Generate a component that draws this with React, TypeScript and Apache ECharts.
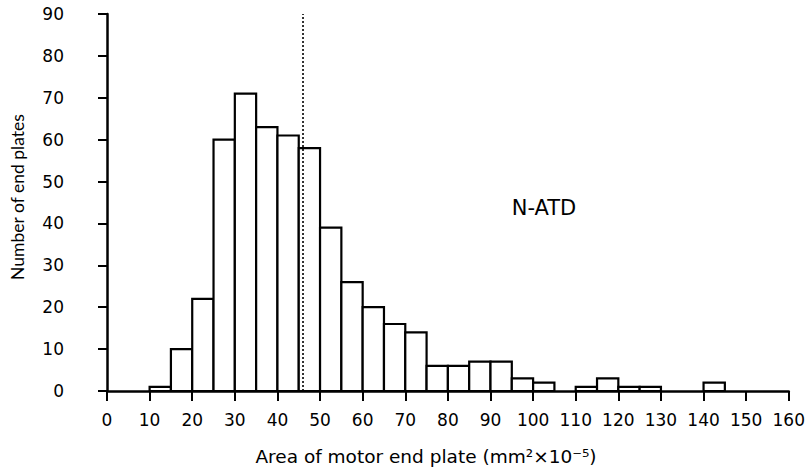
import React, { useEffect, useRef } from "react";
import * as echarts from "echarts";

const binStarts = [10, 15, 20, 25, 30, 35, 40, 45, 50, 55, 60, 65, 70, 75, 80, 85, 90, 95, 100, 110, 115, 120, 125, 140];
const counts = [1, 10, 22, 60, 71, 63, 61, 58, 39, 26, 20, 16, 14, 6, 6, 7, 7, 3, 2, 1, 3, 1, 1, 2];
const binWidth = 5;
const meanValue = 46;
const xTitle = "Area of motor end plate (mm²×10⁻⁵)";
const yTitle = "Number of end plates";
const groupLabel = "N-ATD";

const FONT = "'DejaVu Sans', sans-serif";
const YFONT = "Lato, 'Open Sans', sans-serif";

export default function App() {
  const ref = useRef<HTMLDivElement>(null);
  useEffect(() => {
    if (!ref.current) return;
    const chart = echarts.init(ref.current, null, { renderer: "svg" });
    const barData = binStarts.map((s, i) => [s, s + binWidth, counts[i]]);
    chart.setOption({
      animation: false,
      backgroundColor: "#ffffff",
      grid: { left: 107, top: 14, width: 685, height: 377 },
      xAxis: {
        type: "value",
        min: 0,
        max: 160,
        interval: 10,
        axisLine: { show: true, lineStyle: { color: "#000", width: 2.5 } },
        axisTick: { show: true, length: 10, lineStyle: { color: "#000", width: 2 } },
        axisLabel: { color: "#000", fontSize: 17, fontFamily: FONT, margin: 20 },
        splitLine: { show: false },
      },
      yAxis: {
        type: "value",
        min: 0,
        max: 90,
        interval: 10,
        offset: 25,
        axisLine: { show: true, lineStyle: { color: "#000", width: 2.5 } },
        axisTick: { show: true, length: 9, lineStyle: { color: "#000", width: 2 } },
        axisLabel: { color: "#000", fontSize: 17, fontFamily: FONT, margin: 18 },
        splitLine: { show: false },
      },
      series: [
        {
          type: "custom",
          data: barData,
          encode: { x: [0, 1], y: 2 },
          renderItem: (params: any, api: any) => {
            const x0 = api.value(0);
            const x1 = api.value(1);
            const v = api.value(2);
            const p0 = api.coord([x0, v]);
            const p1 = api.coord([x1, 0]);
            return {
              type: "rect",
              shape: { x: p0[0], y: p0[1], width: p1[0] - p0[0], height: p1[1] - p0[1] },
              style: { fill: "#fff", stroke: "#000", lineWidth: 2.2 },
            };
          },
          z: 2,
        },
        {
          type: "line",
          data: [[meanValue, 0], [meanValue, 90]],
          symbol: "none",
          lineStyle: { color: "#000", width: 1.6, type: [2, 2] },
          z: 3,
        },
      ],
      graphic: [
        {
          type: "text",
          x: 426,
          y: 456,
          style: { text: xTitle, fill: "#000", font: `18.5px ${FONT}`, align: "center", verticalAlign: "middle" },
        },
        {
          type: "text",
          x: 17,
          y: 197,
          rotation: Math.PI / 2,
          style: { text: yTitle, fill: "#000", font: `17.5px ${YFONT}`, align: "center", verticalAlign: "middle" },
        },
        {
          type: "text",
          x: 544,
          y: 208,
          style: { text: groupLabel, fill: "#000", font: `21px ${FONT}`, align: "center", verticalAlign: "middle" },
        },
      ],
    });
    return () => chart.dispose();
  }, []);
  return (
    <div
      ref={ref}
      style={{ position: "fixed", left: 0, top: 0, width: 808, height: 469, background: "#fff" }}
    />
  );
}
